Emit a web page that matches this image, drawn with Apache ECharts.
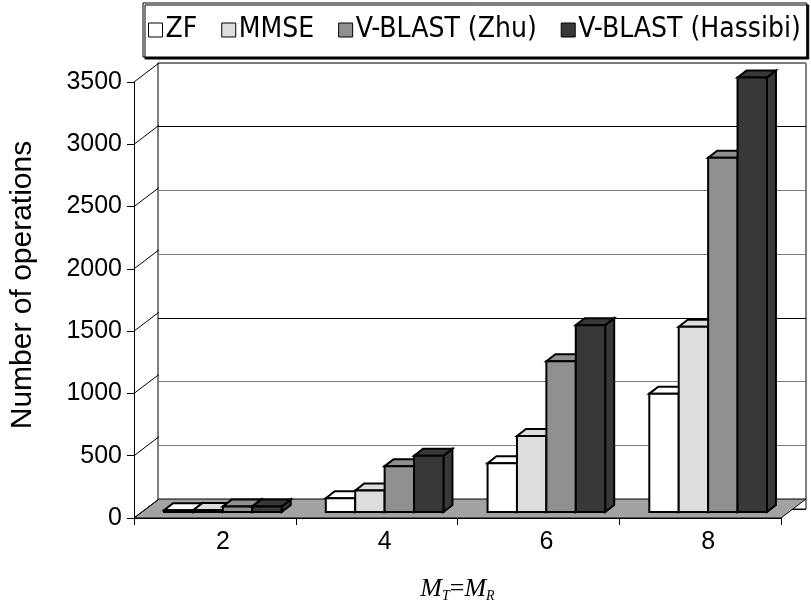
<!DOCTYPE html>
<html>
<head>
<meta charset="utf-8">
<script src="https://cdn.jsdelivr.net/npm/echarts@6/dist/echarts.min.js"></script>
<style>html,body{margin:0;padding:0;background:#fff}#c{width:811px;height:608px}</style>
</head>
<body>
<div id="c"></div>
<script>
// ---- data ----
const categories = ['2', '4', '6', '8'];
const seriesNames = ['ZF', 'MMSE', 'V-BLAST (Zhu)', 'V-BLAST (Hassibi)'];
const zf = [14, 110, 392, 950];
const mmse = [17, 172, 610, 1487];
const zhu = [45, 368, 1210, 2844];
const hassibi = [45, 452, 1500, 3488];
const yTicks = [0, 500, 1000, 1500, 2000, 2500, 3000, 3500];
const yAxisTitle = 'Number of operations';

// ---- styling ----
const colors = ['#ffffff', '#dddddd', '#909090', '#383838'];
const WALL_DX = 25, WALL_DY = -19;
const BAR_DX = 9, BAR_DY = -7;
const OFF_X = 8, OFF_Y = -6;
const allValues = [zf, mmse, zhu, hassibi];

function barRender(si) {
  return function (params, api) {
    const j = api.value(0), v = api.value(1);
    const band = api.size([1, 0])[0];
    const bw = band / 5.5;
    const c0 = api.coord([j, 0]);
    const c1 = api.coord([j, v]);
    const x0 = c0[0] - 2 * bw + si * bw + OFF_X;
    const x1 = x0 + bw;
    const yb = c0[1] + OFF_Y, yt = c1[1] + OFF_Y;
    const st = { fill: colors[si], stroke: '#000', lineWidth: 2, lineJoin: 'miter' };
    return {
      type: 'group',
      children: [
        { type: 'polygon', shape: { points: [[x1, yb], [x1 + BAR_DX, yb + BAR_DY], [x1 + BAR_DX, yt + BAR_DY], [x1, yt]] }, style: st },
        { type: 'polygon', shape: { points: [[x0, yt], [x0 + BAR_DX, yt + BAR_DY], [x1 + BAR_DX, yt + BAR_DY], [x1, yt]] }, style: st },
        { type: 'rect', shape: { x: x0, y: yt, width: bw, height: yb - yt }, style: st }
      ]
    };
  };
}

const series = [];
// floor
series.push({
  type: 'custom', name: '_floor', coordinateSystem: 'cartesian2d', xAxisIndex: 0, yAxisIndex: 0,
  z: 1, silent: true,
  data: [[0, 0]],
  renderItem: function (params, api) {
    const band = api.size([1, 0])[0];
    const a = api.coord([0, 0]);
    const b = api.coord([categories.length - 1, 0]);
    const xl = a[0] - band / 2, xr = b[0] + band / 2, y = a[1];
    return {
      type: 'polygon',
      shape: { points: [[xl, y], [xr, y], [xr + WALL_DX, y + WALL_DY], [xl + WALL_DX, y + WALL_DY]] },
      style: { fill: '#a3a3a3', stroke: '#000', lineWidth: 1 }
    };
  }
});
// diagonal tick connectors
series.push({
  type: 'custom', name: '_diag', coordinateSystem: 'cartesian2d', xAxisIndex: 0, yAxisIndex: 0,
  z: 1, silent: true,
  data: yTicks.map(v => [0, v]),
  renderItem: function (params, api) {
    const band = api.size([1, 0])[0];
    const c = api.coord([0, api.value(1)]);
    const xl = c[0] - band / 2;
    return {
      type: 'line',
      shape: { x1: xl, y1: c[1], x2: xl + WALL_DX, y2: c[1] + WALL_DY },
      style: { stroke: '#000', lineWidth: 1 }
    };
  }
});
seriesNames.forEach((name, si) => {
  series.push({
    type: 'custom', name: name, coordinateSystem: 'cartesian2d', xAxisIndex: 0, yAxisIndex: 0,
    z: 3,
    itemStyle: { color: colors[si], borderColor: '#000', borderWidth: 1 },
    encode: { x: 0, y: 1 },
    data: allValues[si].map((v, j) => [j, v]),
    renderItem: barRender(si)
  });
});

const option = {
  animation: false,
  backgroundColor: '#fff',
  legend: {
    data: seriesNames,
    left: 143, top: 3,
    icon: 'rect',
    itemWidth: 14, itemHeight: 14, itemGap: 24,
    padding: [13, 6, 13, 5],
    borderColor: '#000', borderWidth: 1,
    backgroundColor: '#fff',
    shadowColor: '#000', shadowOffsetX: 2, shadowOffsetY: 2, shadowBlur: 0,
    textStyle: { fontSize: 28, fontFamily: "'Liberation Sans Narrow', 'Arial Narrow', 'DejaVu Sans Condensed', sans-serif", color: '#000', padding: [0, 0, 0, -2] },
    itemStyle: { borderColor: '#000', borderWidth: 1 }
  },
  grid: [
    { left: 133, width: 648, top: 82, height: 446, containLabel: false },
    { left: 158, width: 648, top: 63, height: 446, show: true, borderColor: '#000', borderWidth: 1, backgroundColor: 'transparent' }
  ],
  xAxis: [
    {
      type: 'category', gridIndex: 0, data: categories, boundaryGap: true,
      axisLine: { show: true, lineStyle: { color: '#000', width: 1 } },
      axisTick: { show: true, length: 7, lineStyle: { color: '#000' } },
      axisLabel: { fontSize: 25, fontFamily: "'Liberation Sans', Arial, sans-serif", color: '#000', margin: 12, padding: [0, 0, 0, 16] },
      name: '{m|M}{s|T}{e|=}{m|M}{s|R}',
      nameLocation: 'middle', nameGap: 58,
      nameTextStyle: {
        rich: {
          m: { fontSize: 26, fontStyle: 'italic', fontFamily: "'Liberation Serif', 'Times New Roman', serif", color: '#000' },
          s: { fontSize: 14, fontStyle: 'italic', fontFamily: "'Liberation Serif', 'Times New Roman', serif", color: '#000', verticalAlign: 'bottom', padding: [13, 0, 0, 0] },
          e: { fontSize: 26, fontFamily: "'Liberation Serif', 'Times New Roman', serif", color: '#000' }
        }
      }
    },
    { type: 'category', gridIndex: 1, data: categories, show: false }
  ],
  yAxis: [
    {
      type: 'value', gridIndex: 0, min: 0, max: 3500, interval: 500,
      axisLine: { show: true, lineStyle: { color: '#000', width: 1 } },
      axisTick: { show: true, length: 7, lineStyle: { color: '#000' } },
      axisLabel: { fontSize: 25, fontFamily: "'Liberation Sans', Arial, sans-serif", color: '#000', margin: 12, formatter: v => String(v) },
      splitLine: { show: false },
      name: yAxisTitle, nameLocation: 'middle', nameGap: 96, nameRotate: 90,
      nameTextStyle: { fontSize: 30, fontFamily: "'Liberation Sans', Arial, sans-serif", color: '#000', padding: [0, 0, 0, 30] }
    },
    {
      type: 'value', gridIndex: 1, min: 0, max: 3500, interval: 500,
      axisLine: { show: false }, axisTick: { show: false }, axisLabel: { show: false },
      splitLine: { show: true, lineStyle: { color: ['#000', '#7a7a7a', '#7a7a7a'], width: 1 } }
    }
  ],
  series: series
};

const chart = echarts.init(document.getElementById('c'), null, { renderer: 'canvas' });
chart.setOption(option);
</script>
</body>
</html>
